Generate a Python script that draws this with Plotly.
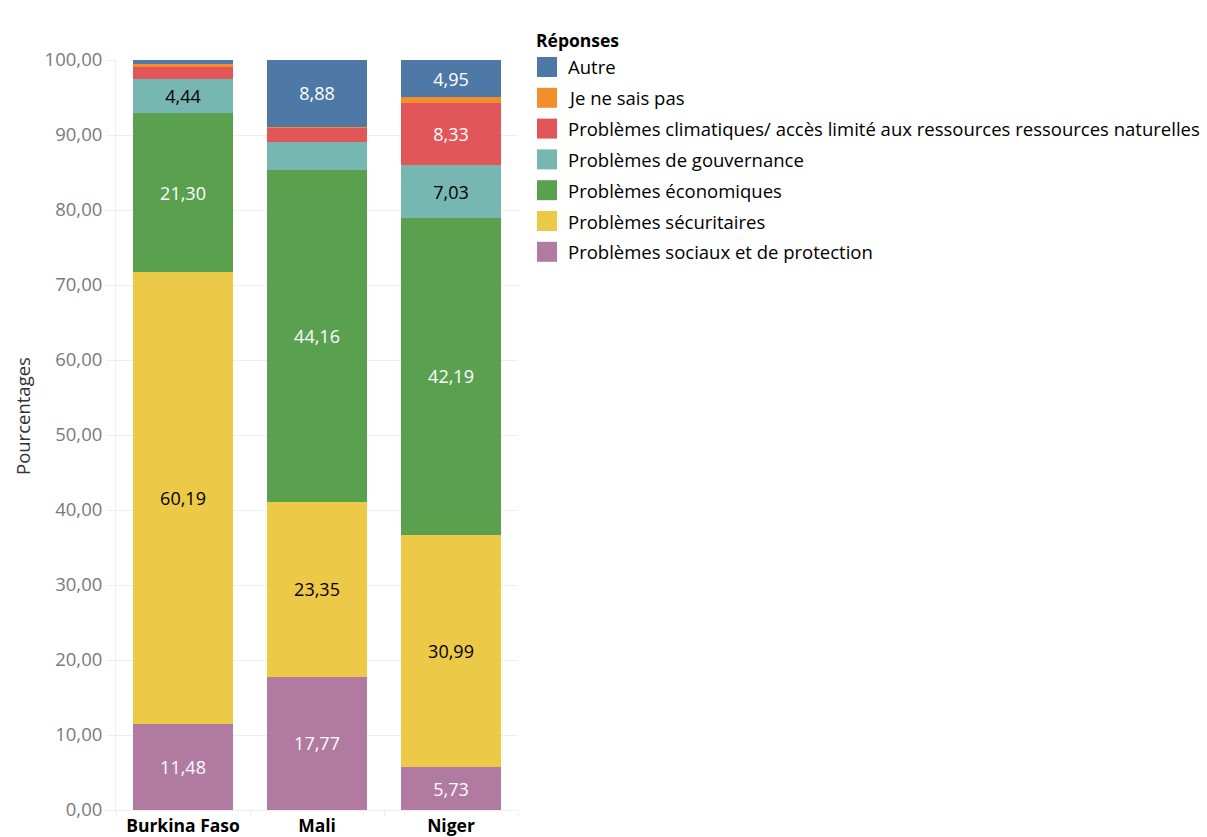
import plotly.graph_objects as go

# Countries on the x axis
countries = ["Burkina Faso", "Mali", "Niger"]

# Responses, stacked from the bottom of each bar to the top
responses = [
    "Problèmes sociaux et de protection",
    "Problèmes sécuritaires",
    "Problèmes économiques",
    "Problèmes de gouvernance",
    "Problèmes climatiques/ accès limité aux ressources ressources naturelles",
    "Je ne sais pas",
    "Autre",
]

# Percentages per response, in country order
sociaux = [11.48, 17.77, 5.73]
securitaires = [60.19, 23.35, 30.99]
economiques = [21.30, 44.16, 42.19]
gouvernance = [4.44, 3.79, 7.03]
climatiques = [1.65, 1.95, 8.33]
ne_sais_pas = [0.36, 0.10, 0.78]
autre = [0.58, 8.88, 4.95]

series = [sociaux, securitaires, economiques, gouvernance, climatiques, ne_sais_pas, autre]

colors = ["#b07aa1", "#edc948", "#59a14f", "#76b7b2", "#e15759", "#f28e2b", "#4e79a7"]
label_colors = ["white", "black", "white", "black", "white", "white", "white"]

# y-axis ticks
tick_values = [0, 10, 20, 30, 40, 50, 60, 70, 80, 90, 100]
tick_labels = [f"{v:.2f}".replace(".", ",") for v in tick_values]

FONT = "Open Sans"
W, H = 1207, 837
L, R, T, B = 116, W - 518, 60, H - 810
PW, PH = W - L - R, H - T - B


def px(x):
    return (x - L) / PW


def py(y):
    return (H - B - y) / PH


def fmt(v):
    return f"{v:.2f}".replace(".", ",")


fig = go.Figure()
for name, vals, col, tcol in zip(responses, series, colors, label_colors):
    fig.add_trace(go.Bar(
        x=countries,
        y=vals,
        name=name,
        marker=dict(color=col, line=dict(width=0)),
        text=[fmt(v) if v >= 4 else "" for v in vals],
        textposition="inside",
        insidetextanchor="middle",
        textangle=0,
        textfont=dict(family=FONT, size=18, color=tcol),
        hovertemplate="%{x}<br>" + name + ": %{y:.2f}<extra></extra>",
        showlegend=False,
    ))

shapes = []
annotations = []

# y-axis title
annotations.append(dict(
    text="Pourcentages", x=px(22), y=py(416), xref="paper", yref="paper",
    xanchor="center", yanchor="middle", textangle=-90, showarrow=False,
    font=dict(family=FONT, size=18.5, color="#333333"),
))

# Legend drawn at the right of the plot
annotations.append(dict(
    text="<b>Réponses</b>", x=px(534), y=py(40), xref="paper", yref="paper",
    xanchor="left", yanchor="middle", showarrow=False,
    font=dict(family=FONT, size=17.5, color="black"),
))
legend_order = list(zip(responses, colors))[::-1]
for i, (name, col) in enumerate(legend_order):
    cy = 67 + i * 30.8
    shapes.append(dict(
        type="rect", xref="paper", yref="paper",
        x0=px(537), x1=px(557), y0=py(cy - 10), y1=py(cy + 10),
        fillcolor=col, line=dict(width=0),
    ))
    annotations.append(dict(
        text=name, x=px(566), y=py(cy), xref="paper", yref="paper",
        xanchor="left", yanchor="middle", showarrow=False,
        font=dict(family=FONT, size=18.5, color="black"),
    ))

fig.update_layout(
    width=W, height=H,
    margin=dict(l=L, r=R, t=T, b=B, pad=0),
    paper_bgcolor="white", plot_bgcolor="white",
    barmode="stack",
    bargap=0.255,
    font=dict(family=FONT),
    shapes=shapes,
    annotations=annotations,
    uniformtext=dict(minsize=8, mode="show"),
)

fig.update_yaxes(
    automargin=False,
    range=[0, 100],
    tickvals=tick_values,
    ticktext=tick_labels,
    showgrid=True, gridcolor="#eeeeee", gridwidth=1,
    zeroline=False,
    showline=True, linecolor="#eeeeee", linewidth=1,
    ticks="outside", ticklen=9, tickcolor="#eeeeee",
    tickfont=dict(family=FONT, size=18.5, color="#7a7a7a"),
)

fig.update_xaxes(
    automargin=False,
    tickson="boundaries",
    ticks="outside", ticklen=5, tickcolor="#eeeeee",
    ticklabelstandoff=0,
    showline=True, linecolor="#eeeeee",
    tickfont=dict(family=FONT, size=17.5, color="black"),
    tickprefix="<b>", ticksuffix="</b>",
)

fig.write_html("out.html")
